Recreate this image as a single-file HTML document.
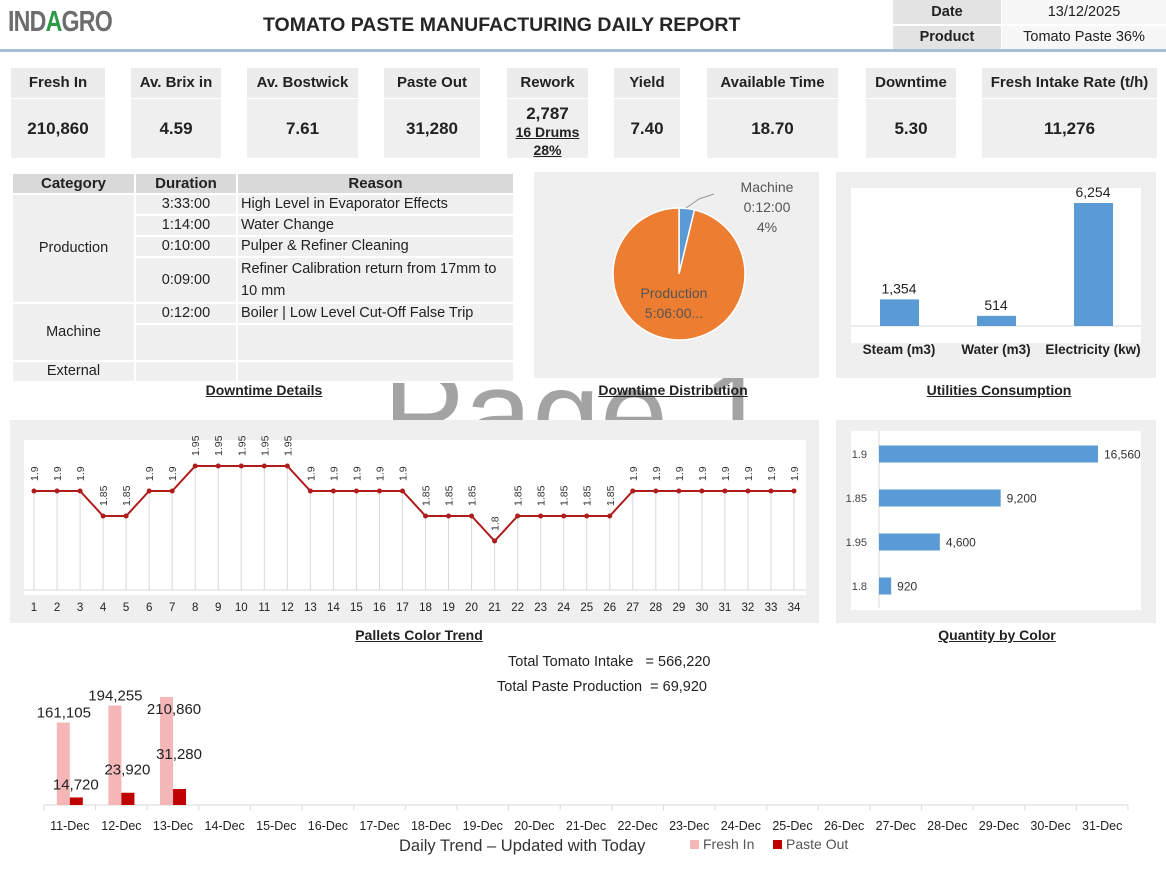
<!DOCTYPE html>
<html><head><meta charset="utf-8">
<style>
*{box-sizing:border-box;margin:0;padding:0}
body{width:1166px;height:871px;background:#fff;font-family:"Liberation Sans",Arial,sans-serif;color:#222;position:relative;overflow:hidden}
.abs{position:absolute}
.wm{position:absolute;left:383px;top:352px;font-size:122px;color:#a3a3a3;z-index:0;line-height:1}
.panel{position:absolute;background:#efefef;z-index:1}
.card-h{position:absolute;background:#ececec;font-weight:bold;font-size:15px;text-align:center;line-height:30px;z-index:1}
.card-v{position:absolute;background:#efefef;font-weight:bold;font-size:17px;text-align:center;z-index:1;display:flex;align-items:center;justify-content:center;flex-direction:column}
.sec{position:absolute;font-weight:bold;font-size:14px;text-decoration:underline;transform:translateX(-50%);z-index:2;white-space:nowrap}
table.dt{position:absolute;left:11px;top:172px;width:504px;border-collapse:collapse;font-size:14.5px;z-index:1;table-layout:fixed}
table.dt td,table.dt th{border:2px solid #fff;background:#f0f0f0;padding:0 3px;line-height:17px;height:21px}
table.dt th{background:#d9d9d9;font-size:15px}
</style></head><body>
<div class="wm">Page 1</div>

<div class="abs" style="left:8px;top:6px;font-size:29px;color:#6d6d6d;letter-spacing:-1px;font-weight:bold;transform:scaleX(0.8);transform-origin:left">IND<span style="color:#2e9a48">A</span>GRO</div>
<div class="abs" style="left:263px;top:14px;font-size:19.5px;font-weight:bold;color:#262626">TOMATO PASTE MANUFACTURING DAILY REPORT</div>
<div class="abs" style="left:0;top:49px;width:1166px;height:3px;background:#a5c0d6"></div>

<div class="abs" style="left:893px;top:0;width:108px;height:24px;background:#e3e3e3;font-weight:bold;font-size:14.5px;text-align:center;line-height:24px">Date</div>
<div class="abs" style="left:1002px;top:0;width:164px;height:24px;background:#f7f7f7;font-size:14.5px;text-align:center;line-height:24px">13/12/2025</div>
<div class="abs" style="left:893px;top:26px;width:108px;height:23px;background:#e3e3e3;font-weight:bold;font-size:14.5px;text-align:center;line-height:23px">Product</div>
<div class="abs" style="left:1002px;top:26px;width:164px;height:23px;background:#f7f7f7;font-size:14.5px;text-align:center;line-height:23px">Tomato Paste 36%</div>

<div id="cards"></div>

<table class="dt">
<colgroup><col style="width:123px"><col style="width:102px"><col></colgroup>
<tr><th>Category</th><th>Duration</th><th>Reason</th></tr>
<tr><td rowspan="4" style="text-align:center">Production</td><td style="text-align:center">3:33:00</td><td>High Level in Evaporator Effects</td></tr>
<tr><td style="text-align:center">1:14:00</td><td>Water Change</td></tr>
<tr><td style="text-align:center">0:10:00</td><td>Pulper &amp; Refiner Cleaning</td></tr>
<tr><td style="text-align:center;height:44px">0:09:00</td><td style="line-height:22px;height:44px">Refiner Calibration return from 17mm to 10 mm</td></tr>
<tr><td rowspan="2" style="text-align:center">Machine</td><td style="text-align:center">0:12:00</td><td>Boiler | Low Level Cut-Off False Trip</td></tr>
<tr><td style="height:37px"></td><td style="height:37px"></td></tr>
<tr><td style="text-align:center">External</td><td></td><td></td></tr>
</table>

<div class="panel" style="left:534px;top:172px;width:285px;height:206px">
<svg id="pie" width="285" height="206"></svg></div>

<div class="panel" style="left:836px;top:172px;width:320px;height:206px">
<svg id="util" width="320" height="206"></svg></div>

<div class="sec" style="left:264px;top:382px">Downtime Details</div>
<div class="sec" style="left:673px;top:382px">Downtime Distribution</div>
<div class="sec" style="left:999px;top:382px">Utilities Consumption</div>

<div class="panel" style="left:10px;top:420px;width:809px;height:203px">
<svg id="line" width="809" height="203"></svg></div>

<div class="panel" style="left:836px;top:420px;width:320px;height:203px">
<svg id="qty" width="320" height="203"></svg></div>

<div class="sec" style="left:419px;top:627px">Pallets Color Trend</div>
<div class="sec" style="left:997px;top:627px">Quantity by Color</div>

<div class="abs" style="left:508px;top:654px;font-size:14.5px">Total Tomato Intake &nbsp;&nbsp;= 566,220</div>
<div class="abs" style="left:497px;top:679px;font-size:14.5px">Total Paste Production &nbsp;= 69,920</div>

<svg id="daily" class="abs" style="left:0;top:640px;z-index:1" width="1166" height="231"></svg>

<script>
const NS="http://www.w3.org/2000/svg";
function mk(p,t,a,txt){const e=document.createElementNS(NS,t);for(const k in a)e.setAttribute(k,a[k]);if(txt!==undefined)e.textContent=txt;p.appendChild(e);return e;}
const fmt=v=>v.toLocaleString('en-US');

// KPI cards
const cardTitles=["Fresh In","Av. Brix in","Av. Bostwick","Paste Out","Rework","Yield","Available Time","Downtime","Fresh Intake Rate (t/h)"];
const cardValues=["210,860","4.59","7.61","31,280","2,787","7.40","18.70","5.30","11,276"];
const cardX=[[11,105],[131,221],[247,358],[384,480],[507,588],[614,680],[707,838],[866,956],[982,1157]];
const cards=document.getElementById('cards');
cardTitles.forEach((t,i)=>{
  const [a,b]=cardX[i];
  const h=document.createElement('div');h.className='card-h';
  
  
  h.style.cssText=`left:${a}px;top:68px;width:${b-a}px;height:30px`;h.textContent=t;cards.appendChild(h);
  const v=document.createElement('div');v.className='card-v';
  
  
  v.style.cssText=`left:${a}px;top:99px;width:${b-a}px;height:59px`;
  if(t==="Rework"){v.innerHTML=`<div style="font-size:17px;line-height:19px">${cardValues[i]}</div><div style="font-size:14px;line-height:18px;text-decoration:underline">16 Drums</div><div style="font-size:14px;line-height:18px;text-decoration:underline">28%</div>`;v.style.paddingTop='6px';}
  else v.textContent=cardValues[i];
  cards.appendChild(v);
});

// Pie
const pieLabels=["Machine","Production"];
const pieValues=[12,306]; // minutes
(function(){
  const s=document.getElementById('pie');const cx=145,cy=102,r=66;
  const tot=pieValues.reduce((a,b)=>a+b,0);let ang=0;const cols=["#5b9bd5","#ed7d31"];
  pieValues.forEach((v,i)=>{
    const a0=ang,a1=ang+v/tot*2*Math.PI;ang=a1;
    const x0=cx+r*Math.sin(a0),y0=cy-r*Math.cos(a0),x1=cx+r*Math.sin(a1),y1=cy-r*Math.cos(a1);
    const p=mk(s,'path',{d:`M${cx},${cy}L${x0},${y0}A${r},${r} 0 ${a1-a0>Math.PI?1:0} 1 ${x1},${y1}Z`,fill:cols[i],stroke:'#fff','stroke-width':1.5});
    
    
  });
  mk(s,'polyline',{points:'152,36 165,27 180,22',fill:'none',stroke:'#999','stroke-width':1});
  const t=mk(s,'text',{x:233,y:20,'font-size':14,fill:'#555','text-anchor':'middle'});
  ['Machine','0:12:00','4%'].forEach((l,i)=>mk(t,'tspan',{x:233,dy:i?20:0},l));
  const t2=mk(s,'text',{x:140,y:126,'font-size':14,fill:'#555','text-anchor':'middle'});
  ['Production','5:06:00...'].forEach((l,i)=>mk(t2,'tspan',{x:140,dy:i?20:0},l));
})();

// Utilities
const utilCats=["Steam (m3)","Water (m3)","Electricity (kw)"];
const utilVals=[1354,514,6254];
(function(){
  const s=document.getElementById('util');
  mk(s,'rect',{x:15,y:16,width:290,height:155,fill:'#fff'});
  const base=154,max=6254,hpx=123;const y=v=>base-v/max*hpx;
  mk(s,'line',{x1:15,x2:305,y1:base,y2:base,stroke:'#d9d9d9'});
  utilVals.forEach((v,i)=>{
    const cx=63+i*97;
    const b=mk(s,'rect',{x:cx-19,y:y(v),width:39,height:base-y(v),fill:'#5b9bd5'});
    
    
    mk(s,'text',{x:cx,y:y(v)-6,'font-size':14,'text-anchor':'middle',fill:'#222'},fmt(v));
    mk(s,'text',{x:cx,y:182,'font-size':13.5,'font-weight':'bold','text-anchor':'middle',fill:'#222'},utilCats[i]);
  });
})();

// Line chart
const lineCats=Array.from({length:34},(_,i)=>String(i+1));
const lineVals=[1.9,1.9,1.9,1.85,1.85,1.9,1.9,1.95,1.95,1.95,1.95,1.95,1.9,1.9,1.9,1.9,1.9,1.85,1.85,1.85,1.8,1.85,1.85,1.85,1.85,1.85,1.9,1.9,1.9,1.9,1.9,1.9,1.9,1.9];
(function(){
  const s=document.getElementById('line');
  mk(s,'rect',{x:14,y:20,width:782,height:155,fill:'#fff'});
  const X=i=>24+i*(760/33);const Y=v=>46+(1.95-v)/0.05*25;
  lineVals.forEach((v,i)=>mk(s,'line',{x1:X(i),x2:X(i),y1:Y(v),y2:170,stroke:'#d9d9d9'}));
  mk(s,'line',{x1:14,x2:796,y1:170,y2:170,stroke:'#d9d9d9'});
  const p=mk(s,'polyline',{points:lineVals.map((v,i)=>X(i)+','+Y(v)).join(' '),fill:'none',stroke:'#b01c1c','stroke-width':2});
  
  
  lineVals.forEach((v,i)=>{
    mk(s,'circle',{cx:X(i),cy:Y(v),r:2.5,fill:'#b01c1c'});
    const tx=X(i)+4,ty=Y(v)-10;
    mk(s,'text',{x:tx,y:ty,'font-size':10.5,fill:'#333',transform:`rotate(-90 ${tx} ${ty})`},String(v));
    mk(s,'text',{x:X(i),y:191,'font-size':11.5,'text-anchor':'middle',fill:'#222'},lineCats[i]);
  });
})();

// Quantity by color
const qtyCats=["1.9","1.85","1.95","1.8"];
const qtyVals=[16560,9200,4600,920];
(function(){
  const s=document.getElementById('qty');
  mk(s,'rect',{x:15,y:11,width:290,height:179,fill:'#fff'});
  const x0=43,W=219/16560;
  mk(s,'line',{x1:x0,x2:x0,y1:11,y2:188,stroke:'#d9d9d9'});
  qtyVals.forEach((v,i)=>{
    const cy=34+i*44;
    const b=mk(s,'rect',{x:x0,y:cy-8.5,width:v*W,height:17,fill:'#5b9bd5'});
    
    
    mk(s,'text',{x:x0+v*W+6,y:cy+4.5,'font-size':12,fill:'#333'},fmt(v));
    mk(s,'text',{x:31,y:cy+4,'font-size':11,fill:'#444','text-anchor':'end'},qtyCats[i]);
  });
})();

// Daily trend
const dayCats=Array.from({length:21},(_,i)=>(11+i)+"-Dec");
const freshIn=[161105,194255,210860];
const pasteOut=[14720,23920,31280];
(function(){
  const s=document.getElementById('daily');
  const base=165,k=108/210860,x0=44,cw=(1128-44)/21;
  mk(s,'line',{x1:x0,x2:1128,y1:base,y2:base,stroke:'#d9d9d9'});
  dayCats.forEach((c,i)=>{
    mk(s,'line',{x1:x0+i*cw,x2:x0+i*cw,y1:base,y2:base+5,stroke:'#d9d9d9'});
    mk(s,'text',{x:x0+(i+0.5)*cw,y:190,'font-size':12.5,'text-anchor':'middle',fill:'#222'},c);
  });
  mk(s,'line',{x1:1128,x2:1128,y1:base,y2:base+5,stroke:'#d9d9d9'});
  freshIn.forEach((v,i)=>{
    const cx=x0+(i+0.5)*cw;const h=v*k;
    const b=mk(s,'rect',{x:cx-13,y:base-h,width:13,height:h,fill:'#f4b6b6'});
    
    
    mk(s,'text',{x:cx-6+(i==2?7:0),y:base-h-5+(i==2?22:0),'font-size':15,'text-anchor':'middle',fill:'#222'},fmt(v));
    const p=pasteOut[i],ph=p*k;
    const b2=mk(s,'rect',{x:cx,y:base-ph,width:13,height:ph,fill:'#c00000'});
    
    
    mk(s,'text',{x:cx+6,y:base-ph-8-(i==1?10:0)-(i==2?22:0),'font-size':15,'text-anchor':'middle',fill:'#222'},fmt(p));
  });
  mk(s,'text',{x:399,y:211,'font-size':16.5,fill:'#333'},'Daily Trend – Updated with Today');
  mk(s,'rect',{x:690,y:200,width:9,height:9,fill:'#f4b6b6'});
  mk(s,'text',{x:703,y:209,'font-size':14,fill:'#555'},'Fresh In');
  mk(s,'rect',{x:773,y:200,width:9,height:9,fill:'#c00000'});
  mk(s,'text',{x:786,y:209,'font-size':14,fill:'#555'},'Paste Out');
})();
</script>
</body></html>
